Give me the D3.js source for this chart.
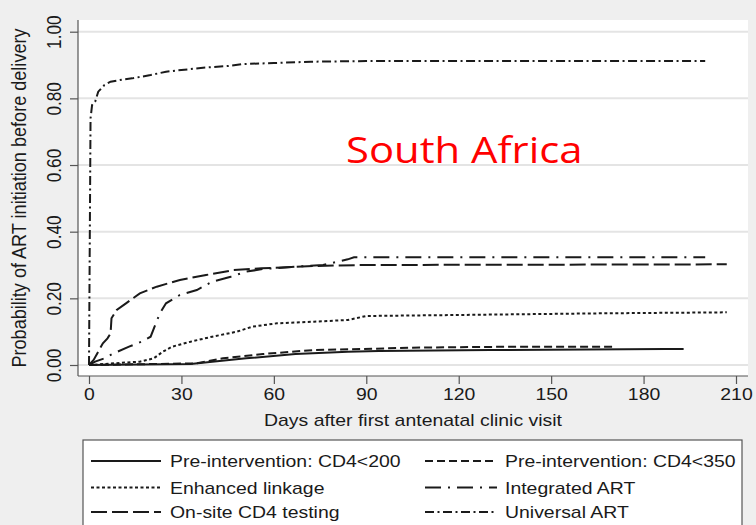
<!DOCTYPE html>
<html>
<head>
<meta charset="utf-8">
<script src="https://cdn.jsdelivr.net/npm/d3@7"></script>
<style>
  html, body { margin: 0; padding: 0; background: #efefef; }
  svg { display: block; }
</style>
</head>
<body>
<svg id="chart" width="756" height="525"></svg>
<script>
// Cumulative probability of ART initiation before delivery, by scenario
const xTicks = [0, 30, 60, 90, 120, 150, 180, 210];
const yTicks = [0, 0.2, 0.4, 0.6, 0.8, 1.0];

const cd4lt200Days = [0, 33, 40, 51, 67, 84, 94, 130, 187, 193];
const cd4lt200Prob = [0, 0.003, 0.01, 0.02, 0.033, 0.04, 0.042, 0.045, 0.048, 0.048];

const cd4lt350Days = [0, 35, 43.5, 56.5, 73, 89, 104, 139, 171];
const cd4lt350Prob = [0, 0.005, 0.02, 0.033, 0.045, 0.048, 0.052, 0.055, 0.055];

const linkageDays = [0, 8, 16.5, 21, 24, 27, 33, 40, 48, 53, 61, 73, 84, 90, 119, 166, 207];
const linkageProb = [0, 0.005, 0.01, 0.02, 0.04, 0.055, 0.07, 0.085, 0.1, 0.115, 0.125, 0.13, 0.135, 0.147, 0.15, 0.155, 0.158];

const integratedDays = [0, 2, 5, 8, 13, 17, 20, 21.5, 23, 25, 29.5, 35, 40, 46, 51, 56.5, 67, 76, 84, 86, 200];
const integratedProb = [0, 0.01, 0.02, 0.035, 0.055, 0.07, 0.085, 0.12, 0.155, 0.185, 0.21, 0.225, 0.25, 0.265, 0.28, 0.288, 0.295, 0.3, 0.317, 0.323, 0.323];

const onsiteDays = [0, 1.5, 3, 4.5, 6, 7, 7.3, 9, 12, 16.5, 22, 29.5, 38, 47, 56, 73, 89, 207];
const onsiteProb = [0, 0.015, 0.04, 0.065, 0.08, 0.095, 0.14, 0.165, 0.185, 0.215, 0.235, 0.255, 0.27, 0.285, 0.29, 0.297, 0.3, 0.302];

const universalDays = [0, 0.5, 1, 2, 3, 5, 7, 10, 14, 20, 25, 30, 37, 45, 50, 60, 72, 90, 120, 150, 200];
const universalProb = [0, 0.74, 0.78, 0.79, 0.82, 0.84, 0.85, 0.855, 0.86, 0.87, 0.88, 0.885, 0.892, 0.897, 0.903, 0.906, 0.91, 0.912, 0.912, 0.912, 0.912];

const seriesNames = [
  "Pre-intervention: CD4<200", "Pre-intervention: CD4<350",
  "Enhanced linkage", "Integrated ART",
  "On-site CD4 testing", "Universal ART"
];
const seriesDays = [cd4lt200Days, cd4lt350Days, linkageDays, integratedDays, onsiteDays, universalDays];
const seriesProb = [cd4lt200Prob, cd4lt350Prob, linkageProb, integratedProb, onsiteProb, universalProb];
const seriesDash = [null, "8,4", "3,2.5", "16,7,2,7", "16,5", "9,3.5,2,3.5"];

const FONT = "Liberation Sans, Arial, sans-serif";
const FS = 17.2;      // text size
const SX = 1.13;      // horizontal stretch of the lettering
const INK = "#1a1a1a";

const svg = d3.select("#chart");

// plot region
const region = { left: 78, right: 748, top: 20, bottom: 376 };
const x = d3.scaleLinear().domain([0, 210]).range([89, 736]);
const y = d3.scaleLinear().domain([0, 1]).range([365, 31.7]);

svg.append("rect")
  .attr("x", region.left).attr("y", region.top)
  .attr("width", region.right - region.left)
  .attr("height", region.bottom - region.top)
  .attr("fill", "#ffffff");

// horizontal grid
svg.append("g").selectAll("line").data(yTicks).join("line")
  .attr("x1", region.left).attr("x2", region.right)
  .attr("y1", d => y(d)).attr("y2", d => y(d))
  .attr("stroke", "#e4e4e4").attr("stroke-width", 2);

function styleText(sel, size) {
  sel.style("font-family", FONT).style("font-size", size + "px").style("fill", INK);
}

// y axis
const yAxis = d3.axisLeft(y).tickValues(yTicks).tickFormat(d3.format(".2f"))
  .tickSize(8).tickPadding(0);
const gy = svg.append("g").attr("transform", `translate(${region.left},0)`).call(yAxis);
gy.select(".domain").remove();
gy.append("line").attr("x1", 0).attr("x2", 0)
  .attr("y1", region.top).attr("y2", region.bottom)
  .attr("stroke", "#555").attr("stroke-width", 1.2);
gy.selectAll(".tick line").attr("stroke", "#555").attr("stroke-width", 1.2);
gy.selectAll(".tick text")
  .attr("x", 0).attr("y", 0).attr("dy", 0)
  .attr("transform", `translate(-17.5,0) scale(${SX},1) rotate(-90)`)
  .attr("text-anchor", "middle")
  .call(styleText, FS);

// x axis
const xAxis = d3.axisBottom(x).tickValues(xTicks).tickSize(8).tickPadding(4);
const gx = svg.append("g").attr("transform", `translate(0,${region.bottom})`).call(xAxis);
gx.select(".domain").remove();
gx.append("line").attr("x1", region.left).attr("x2", region.right)
  .attr("y1", 0).attr("y2", 0)
  .attr("stroke", "#555").attr("stroke-width", 1.2);
gx.selectAll(".tick line").attr("stroke", "#555").attr("stroke-width", 1.2);
gx.selectAll(".tick text")
  .attr("transform", `scale(${SX},1)`)
  .call(styleText, FS);

// axis titles
svg.append("text")
  .attr("transform", `translate(${(region.left + region.right) / 2 + 0},426) scale(${SX},1)`)
  .attr("text-anchor", "middle")
  .call(styleText, FS)
  .text("Days after first antenatal clinic visit");
svg.append("text")
  .attr("transform", `translate(26,198) scale(${SX},1) rotate(-90)`)
  .attr("text-anchor", "middle")
  .call(styleText, 18.1)
  .text("Probability of ART initiation before delivery");

// curves
const line = d3.line().curve(d3.curveLinear)
  .x(d => x(d[0])).y(d => y(d[1]));
seriesNames.forEach((name, i) => {
  const pts = d3.zip(seriesDays[i], seriesProb[i]);
  svg.append("path")
    .attr("d", line(pts))
    .attr("fill", "none")
    .attr("stroke", INK)
    .attr("stroke-width", 2)
    .attr("stroke-dasharray", seriesDash[i]);
});

// panel label
svg.append("text")
  .attr("transform", `translate(346,163) scale(${SX},1)`)
  .style("font-family", "Open Sans, Noto Sans, sans-serif")
  .style("font-size", "37px")
  .style("fill", "#ff0000")
  .text("South Africa");

// legend
const legend = svg.append("g");
legend.append("rect")
  .attr("x", 83).attr("y", 440).attr("width", 659).attr("height", 100)
  .attr("fill", "#ffffff").attr("stroke", "#555").attr("stroke-width", 1.2);
const colLine = [[91, 161], [425, 497]];
const colText = [170, 505];
const rowY = [461, 487.5, 512];
seriesNames.forEach((name, i) => {
  const c = i % 2, r = Math.floor(i / 2);
  legend.append("line")
    .attr("x1", colLine[c][0]).attr("x2", colLine[c][1])
    .attr("y1", rowY[r]).attr("y2", rowY[r])
    .attr("stroke", INK).attr("stroke-width", 2)
    .attr("stroke-dasharray", seriesDash[i]);
  legend.append("text")
    .attr("transform", `translate(${colText[c]},${rowY[r] + 6}) scale(${SX},1)`)
    .call(styleText, FS)
    .text(name);
});
</script>
</body>
</html>
